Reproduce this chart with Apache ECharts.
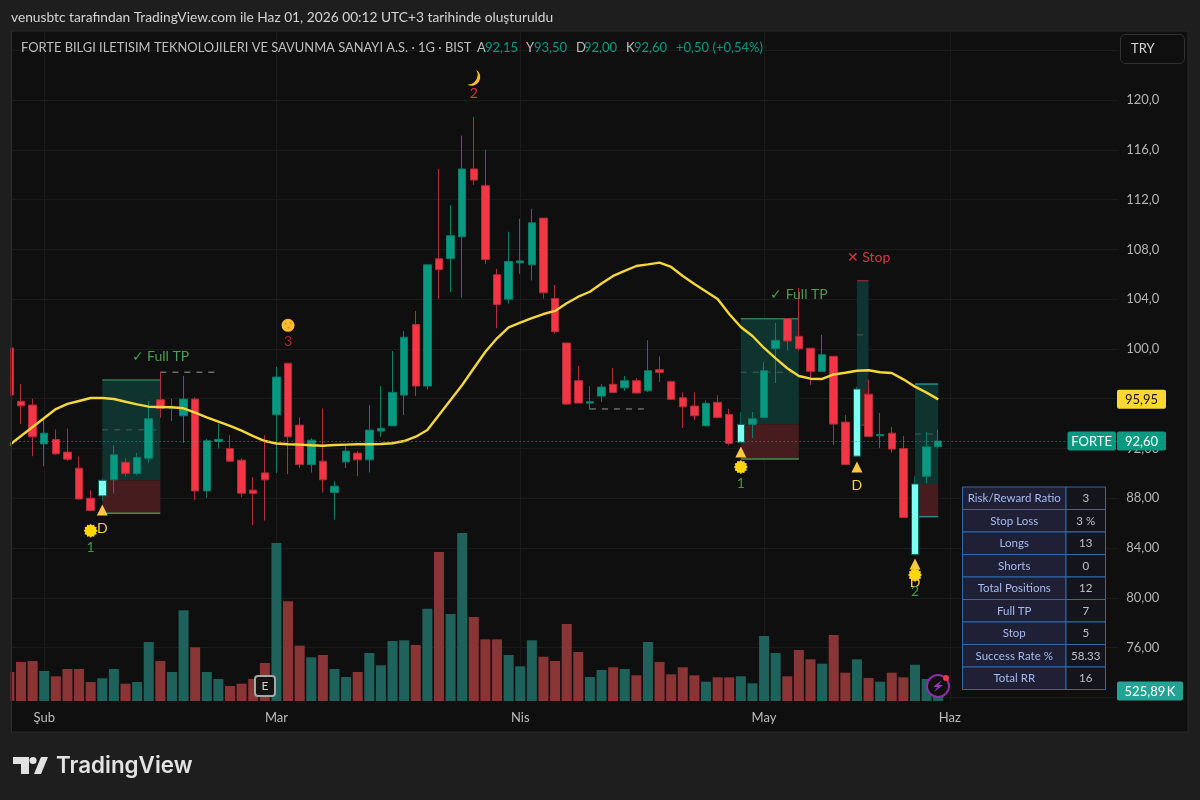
<!DOCTYPE html>
<html>
<head>
<meta charset="utf-8">
<title>FORTE 1G</title>
<style>html,body{margin:0;padding:0;background:#1e1e1e}#chart{width:1200px;height:800px}</style>
<script src="https://cdn.jsdelivr.net/npm/echarts@6/dist/echarts.min.js"></script>
</head>
<body>
<div id="chart"></div>
<script>
// Session dates, including the empty sessions to the right of the last bar.
const sessions = ['01-28','01-29','01-30','02-02','02-03','02-04','02-05','02-06','02-09','02-10','02-11','02-12','02-13','02-16','02-17','02-18','02-19','02-20','02-23','02-24','02-25','02-26','02-27','03-02','03-03','03-04','03-05','03-06','03-09','03-10','03-11','03-12','03-13','03-16','03-17','03-18','03-19','03-23','03-24','03-25','03-26','03-27','03-30','03-31','04-01','04-02','04-03','04-06','04-07','04-08','04-09','04-10','04-13','04-14','04-15','04-16','04-17','04-20','04-21','04-22','04-24','04-27','04-28','04-29','04-30','05-04','05-05','05-06','05-07','05-08','05-11','05-12','05-13','05-14','05-15','05-18','05-20','05-21','05-22','05-25','05-26','06-01','06-02','06-03','06-04','06-05','06-08','06-09','06-10','06-11','06-12','06-15','06-16','06-17','06-18','06-19'];
const monthTicks = {'02-02':'Şub','03-02':'Mar','04-01':'Nis','05-04':'May','06-01':'Haz'};

const opens = [100.08,95.79,95.49,92.37,92.73,91.71,90.42,88.00,88.19,89.48,90.90,89.99,91.22,95.92,95.25,94.63,95.97,88.59,92.57,92.00,91.06,88.65,90.04,94.71,98.85,93.88,90.71,90.98,88.46,90.92,91.63,91.09,93.40,93.82,96.29,101.96,97.02,107.25,107.27,109.02,114.47,113.12,105.96,104.00,106.92,106.76,110.52,104.06,100.48,97.45,95.65,96.21,97.16,96.88,97.45,96.64,98.33,97.37,96.08,95.41,93.82,95.71,94.74,92.49,93.94,94.50,100.02,102.44,101.02,100.06,98.20,99.41,94.12,91.38,96.37,93.02,93.23,92.00,83.47,89.77,92.15];
const closes = [96.29,95.43,92.94,93.23,91.57,91.14,87.94,87.01,89.45,91.49,89.99,91.28,94.39,95.22,95.33,95.97,88.59,92.62,92.73,90.98,88.40,88.40,89.48,97.74,92.94,90.71,92.67,89.48,88.97,91.79,91.09,93.48,93.61,96.51,100.94,97.02,106.76,106.38,109.10,114.47,113.58,107.19,103.57,107.03,107.08,110.14,104.51,101.39,95.57,95.65,95.76,96.94,96.51,97.45,96.46,98.25,98.12,95.95,95.35,94.63,95.63,94.50,92.41,93.94,94.39,98.25,100.70,100.64,100.02,98.20,99.54,93.96,90.71,96.78,92.97,93.13,91.95,86.45,89.15,92.13,92.60];
const lows = [96.29,93.96,91.38,90.58,91.49,91.01,87.90,86.98,87.78,88.38,89.77,89.83,90.84,94.47,94.20,92.45,87.84,88.03,92.00,90.92,88.08,85.83,86.21,90.04,89.93,90.44,90.07,88.46,86.29,90.44,89.77,90.07,92.94,93.82,94.68,96.21,96.75,104.05,104.56,104.13,113.20,106.84,101.67,103.65,106.04,105.50,104.05,101.23,95.49,95.65,95.14,95.73,96.51,96.64,96.46,96.54,97.34,95.95,93.64,94.28,93.82,94.44,92.25,92.49,92.83,94.50,97.26,99.86,99.86,97.12,98.20,92.29,90.71,91.38,92.97,92.03,91.65,86.45,83.47,89.19,92.00];
const highs = [100.08,97.18,96.00,94.50,93.53,93.61,91.36,88.65,89.61,92.27,91.22,91.65,95.81,98.17,96.00,97.83,96.11,92.78,94.01,93.07,91.22,89.69,93.07,98.55,98.85,94.50,92.83,95.22,89.37,92.24,91.79,95.49,97.02,99.84,101.45,103.06,106.76,114.47,111.54,117.15,118.66,116.02,106.44,109.42,110.47,111.27,110.52,105.15,100.48,98.63,97.02,97.18,98.47,97.83,97.66,100.70,99.41,97.45,96.51,96.51,95.87,96.27,95.19,94.93,94.93,98.98,102.09,102.44,104.91,100.06,101.13,99.41,94.68,96.96,97.53,94.85,93.74,93.02,89.77,93.32,93.50];

// Volume in thousands of lots.
const volumes = [1525,2051,2104,1578,1299,1683,1683,999,1194,1683,910,999,3103,2104,1525,4771,2825,1525,1157,789,910,1157,1999,8311,5244,2909,2299,2420,1683,1262,1525,2525,1878,3156,3193,2946,4855,7837,4576,8837,4418,3245,3245,2420,1825,3193,2330,2104,4050,2577,1262,1631,1773,1683,1352,3103,2051,1404,1773,1352,1015,1247,1247,1299,931,3419,2525,1299,2683,2193,1962,3472,1489,2193,1210,1015,1489,1247,1909,1157,525.89];

const movingAverage = [92.28,93.00,93.73,94.45,95.17,95.58,95.82,96.06,96.06,95.98,95.76,95.55,95.36,95.34,95.31,95.23,94.88,94.51,94.16,93.81,93.43,93.00,92.60,92.40,92.34,92.31,92.26,92.22,92.28,92.31,92.34,92.34,92.36,92.42,92.60,92.95,93.49,94.69,95.90,97.10,98.45,99.78,100.86,101.74,102.11,102.47,102.81,103.06,103.67,104.20,104.60,105.26,105.87,106.27,106.67,106.80,106.94,106.59,105.87,105.22,104.62,104.02,102.81,101.77,101.04,100.08,99.25,98.45,97.83,97.61,97.59,97.95,98.09,98.25,98.29,98.13,98.07,97.56,96.97,96.49,95.95];

// Signal bars drawn in the highlight colour.
const signalBars = [8,63,73,78];

// Trade boxes: entry bar, exit bar, take profit, midpoint, entry, stop.
const tradeStart = [8,63,73,78];
const tradeEnd = [13,68,74,80];
const tradeTarget = [97.50,102.43,105.49,97.18];
const tradeMid = [93.50,98.13,101.13,93.16];
const tradeEntry = [89.45,93.94,96.78,89.15];
const tradeStop = [86.79,91.15,93.88,86.52];
const tradeEdgeTop = ['#2f7d4f','#2f7d4f','#7a2a33','#1f8f8f'];
const tradeEdgeBottom = ['#3f8f4f','#3f8f4f','#7a2a33','#1f8f8f'];

// Short dashed levels left after an exit.
const levelStart = [13,50];
const levelEnd = [18,55];
const levelPrice = [98.13,95.18];

// Annotation anchors as [bar, price].
const triangleMarks = [[8,87.06],[63,91.72],[73,90.51],[78,82.71]];
const sunMarks = [[7,85.39],[63,90.51],[78,81.83]];
const coinMark = [[24,101.90]];
const moonMark = [[40,121.80]];
const textMarks = [
  {at:[8,85.53],text:'D',color:'#f7cf45'},
  {at:[73,89.06],text:'D',color:'#f7cf45'},
  {at:[78,81.19],text:'D',color:'#f7cf45'},
  {at:[7,84.08],text:'1',color:'#3a9a44'},
  {at:[63,89.22],text:'1',color:'#3a9a44'},
  {at:[78,80.54],text:'2',color:'#3a9a44'},
  {at:[24,100.58],text:'3',color:'#a52632'},
  {at:[40,120.50],text:'2',color:'#e0303f'},
  {at:[13,99.43],text:'✓ Full TP',color:'#4a9e4f'},
  {at:[68,104.34],text:'✓ Full TP',color:'#4a9e4f'},
  {at:[74,107.39],text:'✕ Stop',color:'#e03444'}
];

const tableLabels = ['Risk/Reward Ratio','Stop Loss','Longs','Shorts','Total Positions','Full TP','Stop','Success Rate %','Total RR'];
const tableValues = ['3','3 %','13','0','12','7','5','58.33','16'];

const legendName = 'FORTE BILGI ILETISIM TEKNOLOJILERI VE SAVUNMA SANAYI A.S. · 1G · BIST';
const legendKeys = ['A','Y','D','K'];
const legendPrices = ['92,15','93,50','92,00','92,60'];
const legendChange = '+0,50 (+0,54%)';
const captionText = 'venusbtc tarafından TradingView.com ile Haz 01, 2026 00:12 UTC+3 tarihinde oluşturuldu';

const UP = '#089981', DOWN = '#f23645', HIGHLIGHT = '#7dfff3';
const FONT = 'Lato, "Noto Sans", sans-serif';
const BAND = 11.61, PLOT_LEFT = 3.6;

function sunSymbol() {
  // Twelve-pointed burst used for the sun marker.
  let d = '';
  for (let k = 0; k < 24; k++) {
    const r = k % 2 ? 9.6 : 12;
    const a = k * Math.PI / 12;
    d += (k ? 'L' : 'M') + (12 + r * Math.sin(a)).toFixed(2) + ' ' + (12 - r * Math.cos(a)).toFixed(2);
  }
  return 'path://' + d + 'Z';
}

const chart = echarts.init(document.getElementById('chart'), null, {renderer: 'canvas'});

const candleData = opens.map((o, i) => {
  const item = {value: [o, closes[i], lows[i], highs[i]]};
  if (signalBars.includes(i)) {
    item.itemStyle = {color: HIGHLIGHT, color0: HIGHLIGHT, borderColor: '#0a5f55', borderColor0: '#0a5f55'};
  }
  return item;
});
const volumeData = volumes.map((v, i) => ({
  value: v,
  itemStyle: {color: closes[i] >= opens[i] ? '#1f625b' : '#8a3535'}
}));

function isMonthTick(index, value) { return monthTicks[value] !== undefined; }

function renderTrade(params, api) {
  const i = params.dataIndex;
  const x0 = api.coord([tradeStart[i], tradeTarget[i]]);
  const x1 = api.coord([tradeEnd[i], tradeStop[i]]);
  const mid = api.coord([tradeStart[i], tradeMid[i]])[1];
  const entry = api.coord([tradeStart[i], tradeEntry[i]])[1];
  const left = x0[0], right = x1[0], top = x0[1], bottom = x1[1];
  return {
    type: 'group',
    children: [
      {type: 'rect', shape: {x: left, y: top, width: right - left, height: entry - top}, style: {fill: '#0f332e'}},
      {type: 'rect', shape: {x: left, y: entry, width: right - left, height: bottom - entry}, style: {fill: '#471c1f'}},
      {type: 'line', shape: {x1: left, y1: mid, x2: right, y2: mid}, style: {stroke: '#33504b', lineWidth: 1.5, lineDash: [6, 6]}},
      {type: 'line', shape: {x1: left, y1: top, x2: right, y2: top}, style: {stroke: tradeEdgeTop[i], lineWidth: 1.5}},
      {type: 'line', shape: {x1: left, y1: bottom, x2: right, y2: bottom}, style: {stroke: tradeEdgeBottom[i], lineWidth: 1.5}}
    ]
  };
}

function renderLevel(params, api) {
  const i = params.dataIndex;
  const a = api.coord([levelStart[i], levelPrice[i]]);
  const b = api.coord([levelEnd[i], levelPrice[i]]);
  return {type: 'line', shape: {x1: a[0], y1: a[1], x2: b[0], y2: b[1]}, style: {stroke: '#6a6a6a', lineWidth: 1.5, lineDash: [6, 6]}};
}

function text(x, y, content, fill, size, align, weight, family) {
  return {type: 'text', x, y, z: 100, style: {
    text: content, fill, align: align || 'left', verticalAlign: 'middle',
    font: (weight || 'normal') + ' ' + size + 'px ' + (family || FONT)
  }};
}
function box(x, y, w, h, fill, extra) {
  return Object.assign({type: 'rect', z: 100, shape: {x, y, width: w, height: h}, style: {fill}}, extra || {});
}

const frame = [
  // Chart pane behind the series.
  box(11, 31, 1177, 701, '#0f0f0f', {z: -10, style: {fill: '#0f0f0f', stroke: '#2b2b2b', lineWidth: 1}}),
  // Keeps the first bar inside the pane.
  box(0, 31, 10.5, 701, '#1e1e1e'),
  {type: 'line', z: 101, shape: {x1: 11.5, y1: 31, x2: 11.5, y2: 732}, style: {stroke: '#2b2b2b', lineWidth: 1}},
  text(11, 17.5, captionText, '#d4d4d4', 13.75),
  text(21, 48, legendName, '#bdbdbd', 12.9),
  text(676, 48, legendChange, UP, 13)
];
[477, 526, 576, 626].forEach((x, k) => {
  frame.push(text(x, 48, legendKeys[k], '#bdbdbd', 13));
  frame.push(text(x + 8, 48, legendPrices[k], UP, 13));
});

// Currency button.
frame.push({type: 'rect', z: 100, shape: {x: 1120.5, y: 34.5, width: 64, height: 29, r: 5}, style: {fill: '#0f0f0f', stroke: '#333333', lineWidth: 1}});
frame.push(text(1131, 49, 'TRY', '#d6d6d6', 13));

// Earnings flag on the volume pane.
frame.push({type: 'rect', z: 100, shape: {x: 255, y: 676, width: 20, height: 20, r: 3}, style: {fill: '#141414', stroke: '#a8a8a8', lineWidth: 2}});
frame.push(text(265, 686.5, 'E', '#cfcfcf', 12, 'center'));

// Alert badge with the bolt.
frame.push({type: 'circle', z: 100, shape: {cx: 938, cy: 686, r: 11}, style: {fill: '#0f0f0f', stroke: '#8e2fa6', lineWidth: 2}});
frame.push({type: 'polygon', z: 101, shape: {points: [[942, 680], [933, 687], [937.5, 687], [934, 692], [943, 685], [938.5, 685]]}, style: {fill: '#9b37b5'}});
frame.push({type: 'circle', z: 102, shape: {cx: 946, cy: 678, r: 3}, style: {fill: '#f23645'}});

// Statistics table.
const TABLE_X = 962.5, TABLE_Y = 487, ROW = 22.5, COL_A = 103.5, COL_B = 39.5;
tableLabels.forEach((label, r) => {
  const y = TABLE_Y + r * ROW;
  frame.push(box(TABLE_X, y, COL_A, ROW, '#1f2035', {style: {fill: '#1f2035', stroke: '#2f68ad', lineWidth: 1}}));
  frame.push(box(TABLE_X + COL_A, y, COL_B, ROW, '#14141d', {style: {fill: '#14141d', stroke: '#2f68ad', lineWidth: 1}}));
  frame.push(text(TABLE_X + COL_A / 2, y + ROW / 2 + 0.5, label, '#a6bbee', 11.5, 'center'));
  frame.push(text(TABLE_X + COL_A + COL_B / 2, y + ROW / 2 + 0.5, tableValues[r], '#c2c2c2', 11.5, 'center'));
});

// Brand mark and wordmark in the footer.
frame.push({type: 'polygon', z: 100, shape: {points: [[13, 757], [29, 757], [29, 774], [21, 774], [21, 764], [13, 764]]}, style: {fill: '#e3e3e3'}});
frame.push({type: 'polygon', z: 100, shape: {points: [[34, 774], [41, 757], [48, 757], [41, 774]]}, style: {fill: '#e3e3e3'}});
frame.push({type: 'circle', z: 100, shape: {cx: 33, cy: 760.5, r: 3.6}, style: {fill: '#e3e3e3'}});
frame.push(text(56, 766, 'TradingView', '#e3e3e3', 22.4, 'left', '600', 'Inter, sans-serif'));

const SOLID = {opacity: 1};
const option = {
  animation: false,
  backgroundColor: '#1e1e1e',
  textStyle: {fontFamily: FONT},
  grid: [
    {left: PLOT_LEFT, width: BAND * 96, top: 50.4, height: 646.9},
    {left: PLOT_LEFT, width: BAND * 96, top: 31, height: 670}
  ],
  xAxis: [
    {type: 'category', gridIndex: 0, data: sessions, show: false},
    {
      type: 'category', gridIndex: 1, data: sessions,
      axisLine: {show: false}, axisTick: {show: false},
      axisLabel: {
        color: '#bdbdbd', fontSize: 13, margin: 10, interval: isMonthTick,
        formatter: v => monthTicks[v] || ''
      },
      splitLine: {show: true, alignWithLabel: true, interval: isMonthTick, lineStyle: {color: '#1b1b1b', width: 1}}
    }
  ],
  yAxis: [
    {
      type: 'value', gridIndex: 0, position: 'right', min: 72, max: 124, interval: 4,
      axisLine: {show: false}, axisTick: {show: false},
      axisLabel: {
        color: '#b4b4b4', fontSize: 13, margin: 8,
        formatter: v => (v === 124 || v === 72 || v === 96) ? '' : (v >= 100 ? v.toFixed(1) : v.toFixed(2)).replace('.', ',')
      },
      splitLine: {show: true, lineStyle: {color: '#1b1b1b', width: 1}}
    },
    {type: 'value', gridIndex: 1, min: 0, max: 35242, show: false}
  ],
  series: [
    {type: 'bar', name: 'Hacim', xAxisIndex: 1, yAxisIndex: 1, data: volumeData, barWidth: 10, z: 1},
    {type: 'custom', name: 'İşlemler', xAxisIndex: 0, yAxisIndex: 0, renderItem: renderTrade, data: tradeStart, encode: {x: 0}, z: 2, silent: true},
    {type: 'custom', name: 'Seviyeler', xAxisIndex: 0, yAxisIndex: 0, renderItem: renderLevel, data: levelStart, encode: {x: 0}, z: 2, silent: true},
    {
      type: 'candlestick', name: 'FORTE', xAxisIndex: 0, yAxisIndex: 0, data: candleData, barWidth: 8, z: 3,
      itemStyle: {color: UP, color0: DOWN, borderColor: '#0a7d6b', borderColor0: '#b52c39', borderWidth: 1},
      markLine: {
        silent: true, symbol: 'none', label: {show: false}, animation: false,
        lineStyle: {color: '#0fa88e', type: [1, 3], width: 1, opacity: 1},
        data: [{yAxis: closes[closes.length - 1]}]
      }
    },
    {
      type: 'line', name: 'MA', xAxisIndex: 0, yAxisIndex: 0, data: movingAverage, showSymbol: false, z: 4, silent: true,
      lineStyle: {color: '#f5d73a', width: 2.4}
    },
    {type: 'scatter', xAxisIndex: 0, yAxisIndex: 0, data: triangleMarks, symbol: 'triangle', symbolSize: [11, 11], itemStyle: {color: '#fcc844', opacity: 1}, z: 5, silent: true},
    {type: 'scatter', xAxisIndex: 0, yAxisIndex: 0, data: sunMarks, symbol: sunSymbol(), symbolSize: 14, itemStyle: {color: '#ffd60a', opacity: 1}, z: 5, silent: true},
    {type: 'scatter', xAxisIndex: 0, yAxisIndex: 0, data: coinMark, symbol: 'circle', symbolSize: 13, itemStyle: {color: '#fbbb2d', opacity: 1}, z: 5, silent: true},
    {
      type: 'scatter', xAxisIndex: 0, yAxisIndex: 0, data: coinMark, z: 6, silent: true,
      symbol: 'path://M2 4a2 2 0 1 0 4 0a2 2 0 1 0 -4 0ZM12 2a2 2 0 1 0 4 0a2 2 0 1 0 -4 0ZM8 12a2 2 0 1 0 4 0a2 2 0 1 0 -4 0Z',
      symbolSize: 7, itemStyle: {color: '#d8922a', opacity: 1}
    },
    {
      type: 'scatter', xAxisIndex: 0, yAxisIndex: 0, data: moonMark, z: 5, silent: true,
      symbol: 'path://M15 1A11 11 0 0 1 3 21A13 13 0 0 0 15 1Z', symbolSize: [13, 16], itemStyle: {color: '#fbbb2d', opacity: 1}
    },
    {
      type: 'scatter', xAxisIndex: 0, yAxisIndex: 0, z: 7, silent: true, symbolSize: 0, itemStyle: SOLID,
      data: textMarks.map(m => ({
        value: m.at,
        label: {show: true, position: 'inside', formatter: m.text, color: m.color, fontSize: 14, fontFamily: FONT, opacity: 1}
      }))
    }
  ],
  graphic: {elements: frame}
};
chart.setOption(option);

// Price tags follow the axes, so they are placed once the scales exist.
const lastClose = closes[closes.length - 1];
const lastMa = movingAverage[movingAverage.length - 1];
const lastVolume = volumes[volumes.length - 1];
const closeY = chart.convertToPixel({yAxisIndex: 0}, lastClose);
const maY = chart.convertToPixel({yAxisIndex: 0}, lastMa);
const volY = chart.convertToPixel({yAxisIndex: 1}, lastVolume);
const fmt = v => v.toFixed(2).replace('.', ',');
const tags = [
  {type: 'rect', z: 100, shape: {x: 1117, y: maY - 9.5, width: 49, height: 19, r: 2}, style: {fill: '#fdd835'}},
  text(1141.5, maY + 0.5, fmt(lastMa), '#131313', 13, 'center'),
  {type: 'rect', z: 100, shape: {x: 1067.5, y: closeY - 9.5, width: 48.5, height: 19, r: 2}, style: {fill: UP}},
  text(1091.7, closeY + 0.5, 'FORTE', '#ffffff', 13, 'center'),
  {type: 'rect', z: 100, shape: {x: 1117, y: closeY - 9.5, width: 49, height: 19, r: 2}, style: {fill: UP}},
  text(1141.5, closeY + 0.5, fmt(lastClose), '#ffffff', 13, 'center'),
  {type: 'rect', z: 100, shape: {x: 1117, y: volY - 9.5, width: 66, height: 19, r: 2}, style: {fill: '#22a394'}},
  text(1150, volY + 0.5, fmt(lastVolume) + '\u2009K', '#ffffff', 13, 'center')
];
chart.setOption({graphic: {elements: frame.concat(tags)}});
</script>
</body>
</html>
